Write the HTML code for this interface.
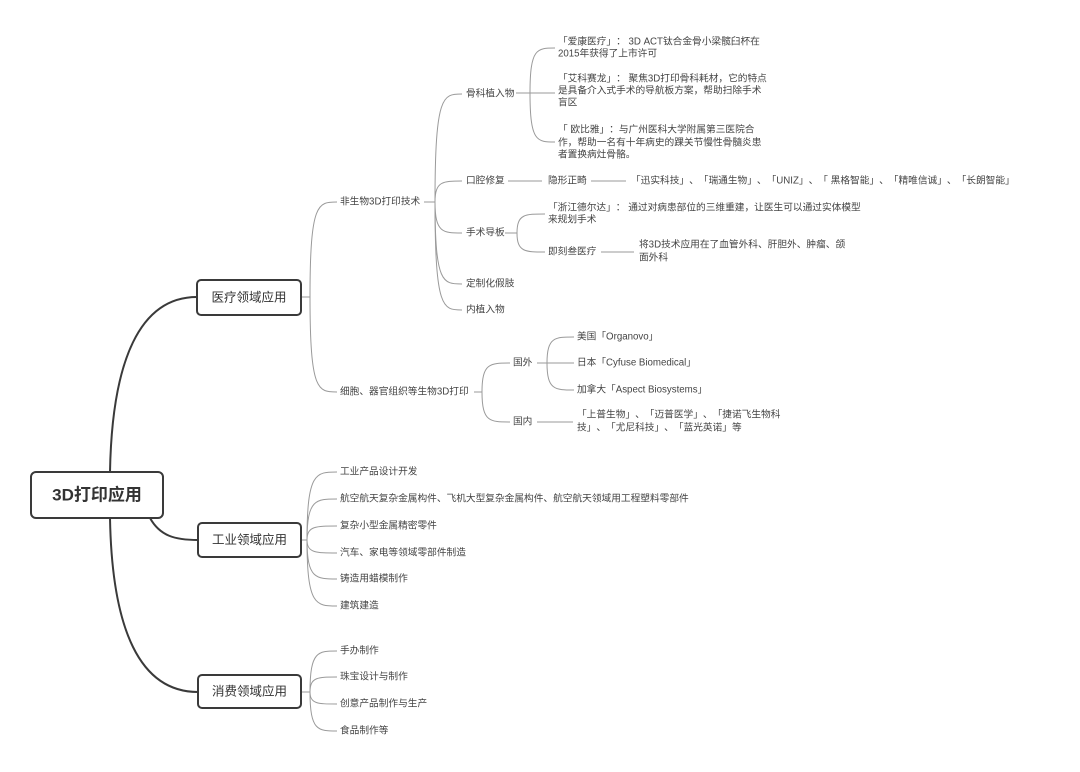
<!DOCTYPE html>
<html>
<head>
<meta charset="utf-8">
<style>
  html,body{margin:0;padding:0;background:#fff;text-spacing-trim:space-all;}
  body{width:1080px;height:772px;overflow:hidden;}
  svg{display:block;text-spacing-trim:space-all;}
  text{font-family:"Liberation Sans","Noto Sans CJK SC",sans-serif;font-size:9.7px;fill:#444;dominant-baseline:central;text-spacing-trim:space-all;font-kerning:none;}
  .box{fill:#fff;stroke:#3a3a3a;stroke-width:2;}
  .thick{fill:none;stroke:#3a3a3a;stroke-width:2;}
  .thin{fill:none;stroke:#9a9a9a;stroke-width:1;}
  .b1{font-size:12.5px;fill:#333;text-anchor:middle;}
  .root{font-size:17px;font-weight:bold;fill:#333;text-anchor:middle;}
</style>
</head>
<body>
<svg width="1080" height="772" viewBox="0 0 1080 772" xmlns="http://www.w3.org/2000/svg">
  <rect x="0" y="0" width="1080" height="772" fill="#fff"/>

  <!-- thick main connectors -->
  <path class="thick" d="M110,472 C112,360 140,297 197,297"/>
  <path class="thick" d="M150,518 C160,536 175,540 198,540"/>
  <path class="thick" d="M110,518 C112,630 140,692 198,692"/>

  <!-- thin connectors: medical -->
  <path class="thin" d="M301,297 H310"/>
  <path class="thin" d="M310,297 C310,202 318,202 337,202"/>
  <path class="thin" d="M310,297 C310,392 318,392 337,392"/>

  <!-- non-bio -->
  <path class="thin" d="M424,202 H435"/>
  <path class="thin" d="M435,202 C435,94 443,94 462,94"/>
  <path class="thin" d="M435,202 C435,181 443,181 462,181"/>
  <path class="thin" d="M435,202 C435,233 443,233 462,233"/>
  <path class="thin" d="M435,202 C435,284 443,284 462,284"/>
  <path class="thin" d="M435,202 C435,310 443,310 462,310"/>

  <!-- bone -->
  <path class="thin" d="M516,93 H555"/>
  <path class="thin" d="M530,93 C530,48 537,48 555,48"/>
  <path class="thin" d="M530,93 C530,142 537,142 555,142"/>

  <!-- oral -->
  <path class="thin" d="M508,181 H542"/>
  <path class="thin" d="M591,181 H626"/>

  <!-- surgical guide -->
  <path class="thin" d="M505,233 H517"/>
  <path class="thin" d="M517,233 C517,214 525,214 545,214"/>
  <path class="thin" d="M517,233 C517,252 525,252 545,252"/>
  <path class="thin" d="M601,252 H634"/>

  <!-- bio -->
  <path class="thin" d="M474,392 H482"/>
  <path class="thin" d="M482,392 C482,363 490,363 510,363"/>
  <path class="thin" d="M482,392 C482,422 490,422 510,422"/>
  <path class="thin" d="M537,363 H574"/>
  <path class="thin" d="M547,363 C547,337 555,337 574,337"/>
  <path class="thin" d="M547,363 C547,390 555,390 574,390"/>
  <path class="thin" d="M537,422 H573"/>

  <!-- industrial -->
  <path class="thin" d="M301,540 H307"/>
  <path class="thin" d="M307,540 C307,472 316,472 337,472"/>
  <path class="thin" d="M307,540 C307,499 316,499 337,499"/>
  <path class="thin" d="M307,540 C307,526 316,526 337,526"/>
  <path class="thin" d="M307,540 C307,553 316,553 337,553"/>
  <path class="thin" d="M307,540 C307,579 316,579 337,579"/>
  <path class="thin" d="M307,540 C307,606 316,606 337,606"/>

  <!-- consumer -->
  <path class="thin" d="M301,692 H310"/>
  <path class="thin" d="M310,692 C310,651 318,651 337,651"/>
  <path class="thin" d="M310,692 C310,677 318,677 337,677"/>
  <path class="thin" d="M310,692 C310,704 318,704 337,704"/>
  <path class="thin" d="M310,692 C310,731 318,731 337,731"/>

  <!-- boxes -->
  <rect class="box" x="31" y="472" width="132" height="46" rx="5"/>
  <text class="root" x="97" y="495">3D打印应用</text>

  <rect class="box" x="197" y="280" width="104" height="35" rx="4"/>
  <text class="b1" x="249" y="297.5">医疗领域应用</text>

  <rect class="box" x="198" y="523" width="103" height="34" rx="4"/>
  <text class="b1" x="249.5" y="540">工业领域应用</text>

  <rect class="box" x="198" y="675" width="103" height="33" rx="4"/>
  <text class="b1" x="249.5" y="691.5">消费领域应用</text>

  <!-- medical level 2 -->
  <text x="340" y="202">非生物3D打印技术</text>
  <text x="340" y="392">细胞、器官组织等生物3D打印</text>

  <!-- non-bio children -->
  <text x="466" y="94">骨科植入物</text>
  <text x="466" y="181">口腔修复</text>
  <text x="466" y="233">手术导板</text>
  <text x="466" y="284">定制化假肢</text>
  <text x="466" y="310">内植入物</text>

  <!-- bone children -->
  <text x="558" y="42">「爱康医疗」： 3D ACT钛合金骨小梁髋臼杯在</text>
  <text x="558" y="54">2015年获得了上市许可</text>

  <text x="558" y="79">「艾科赛龙」： 聚焦3D打印骨科耗材，它的特点</text>
  <text x="558" y="91">是具备介入式手术的导航板方案，帮助扫除手术</text>
  <text x="558" y="103">盲区</text>

  <text x="558" y="130">「 欧比雅」：与广州医科大学附属第三医院合</text>
  <text x="558" y="143">作，帮助一名有十年病史的踝关节慢性骨髓炎患</text>
  <text x="558" y="155">者置换病灶骨骼。</text>

  <!-- oral -->
  <text x="548" y="181">隐形正畸</text>
  <text x="631" y="181">「迅实科技」、「瑞通生物」、「UNIZ」、「 黑格智能」、「精唯信诚」、「长朗智能」</text>

  <!-- surgical guide children -->
  <text x="548" y="208">「浙江德尔达」： 通过对病患部位的三维重建，让医生可以通过实体模型</text>
  <text x="548" y="220">来规划手术</text>
  <text x="548" y="252">即刻叁医疗</text>
  <text x="639" y="245">将3D技术应用在了血管外科、肝胆外、肿瘤、颌</text>
  <text x="639" y="258">面外科</text>

  <!-- bio children -->
  <text x="513" y="363">国外</text>
  <text x="513" y="422">国内</text>
  <text x="577" y="337">美国「Organovo」</text>
  <text x="577" y="363">日本「Cyfuse Biomedical」</text>
  <text x="577" y="390">加拿大「Aspect Biosystems」</text>
  <text x="577" y="415">「上普生物」、「迈普医学」、「捷诺飞生物科</text>
  <text x="577" y="428">技」、「尤尼科技」、「蓝光英诺」等</text>

  <!-- industrial children -->
  <text x="340" y="472">工业产品设计开发</text>
  <text x="340" y="499">航空航天复杂金属构件、飞机大型复杂金属构件、航空航天领域用工程塑料零部件</text>
  <text x="340" y="526">复杂小型金属精密零件</text>
  <text x="340" y="553">汽车、家电等领域零部件制造</text>
  <text x="340" y="579">铸造用蜡模制作</text>
  <text x="340" y="606">建筑建造</text>

  <!-- consumer children -->
  <text x="340" y="651">手办制作</text>
  <text x="340" y="677">珠宝设计与制作</text>
  <text x="340" y="704">创意产品制作与生产</text>
  <text x="340" y="731">食品制作等</text>
</svg>
</body>
</html>
